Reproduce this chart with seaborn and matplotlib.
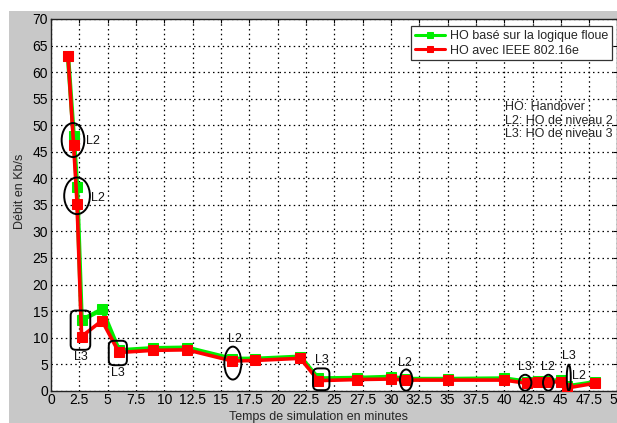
import numpy as np
import pandas as pd
import matplotlib
matplotlib.use("Agg")
import matplotlib.pyplot as plt
import seaborn as sns
from matplotlib.patches import Ellipse, FancyBboxPatch, Rectangle

# ---- data ----
time_min = [1.5, 2.0, 2.3, 2.7, 4.5, 6.0, 9.0, 12.0, 16.0, 18.0, 22.0, 23.6, 27.0,
            30.0, 31.3, 35.0, 40.0, 42.0, 43.0, 43.8, 45.0, 45.5, 48.0]
debit_floue = [63.0, 48.0, 38.4, 13.3, 15.3, 7.6, 8.0, 8.1, 6.0, 6.0, 6.4, 2.3, 2.4,
               2.6, 2.2, 2.2, 2.3, 1.7, 1.8, 1.8, 2.0, 0.8, 1.6]
debit_ieee = [63.0, 46.2, 35.2, 10.2, 13.2, 7.2, 7.6, 7.7, 5.6, 5.7, 6.1, 1.9, 2.1,
              2.2, 2.0, 2.0, 2.0, 1.4, 1.6, 1.6, 1.7, 0.5, 1.4]
series_names = ["HO basé sur la logique floue", "HO avec IEEE 802.16e"]
x_ticks = np.arange(0, 50.01, 2.5)
x_tick_labels = ["0", "2.5", "5", "7.5", "10", "12.5", "15", "17.5", "20", "22.5", "25",
                 "27.5", "30", "32.5", "35", "37.5", "40", "42.5", "45", "47.5", "50"]
y_ticks = np.arange(0, 70.01, 5)
x_label = "Temps de simulation en minutes"
y_label = "Débit en Kb/s"
info_text = "HO: Handover\nL2: HO de niveau 2\nL3: HO de niveau 3"

# handover markers: (label, kind, center_x, center_y, width, height, label_x, label_y)
handovers = [
    ("L2", "ellipse", 1.94, 47.2, 2.0, 6.4, 3.7, 47.0),
    ("L2", "ellipse", 2.30, 36.7, 2.27, 6.9, 4.1, 36.3),
    ("L3", "box", 2.60, 11.4, 1.73, 7.4, 2.6, 6.3),
    ("L3", "box", 5.90, 7.1, 1.6, 4.6, 5.9, 3.4),
    ("L2", "ellipse", 16.05, 5.2, 1.5, 6.2, 16.2, 9.8),
    ("L3", "box", 23.85, 2.15, 1.45, 4.1, 23.9, 5.8),
    ("L2", "ellipse", 31.35, 2.0, 1.1, 4.0, 31.2, 5.3),
    ("L3", "ellipse", 41.85, 1.5, 1.1, 3.0, 41.8, 4.4),
    ("L2", "ellipse", 43.9, 1.5, 0.95, 3.0, 43.9, 4.5),
    ("L3", "ellipse", 45.7, 2.45, 0.35, 4.9, 45.7, 6.5),
]
extra_label = ("L2", 46.6, 2.7)

# ---- style ----
sns.set_style("white")
plt.rcParams["font.family"] = ["Liberation Sans", "DejaVu Sans"]

fig = plt.figure(figsize=(6.17, 4.23), dpi=100)
fig.patch.set_facecolor("white")
# grey window background like the original screenshot
fig.patches.append(Rectangle((9 / 617, 0), 1, 1 - 11 / 423, transform=fig.transFigure,
                             facecolor="#c8c8c8", edgecolor="none", zorder=-10))

ax = fig.add_axes([51 / 617, 32.3 / 423, 566.5 / 617, 371.7 / 423])
ax.set_facecolor("white")

df = pd.DataFrame({
    "t": time_min + time_min,
    "d": debit_floue + debit_ieee,
    "s": [series_names[0]] * len(time_min) + [series_names[1]] * len(time_min),
})

sns.lineplot(data=df[df.s == series_names[0]], x="t", y="d", ax=ax, color="#00ee00",
             marker="s", markersize=6.5, markeredgecolor="#00ee00", linewidth=3.2,
             sort=False, estimator=None, label=series_names[0], zorder=3)
sns.lineplot(data=df[df.s == series_names[1]], x="t", y="d", ax=ax, color="#ff0000",
             marker="s", markersize=6.5, markeredgecolor="#ff0000", linewidth=2.6,
             sort=False, estimator=None, label=series_names[1], zorder=4)

for lab, kind, cx, cy, w, h, lx, ly in handovers:
    if kind == "ellipse":
        p = Ellipse((cx, cy), w, h, facecolor="none", edgecolor="black", linewidth=1.4, zorder=5)
    else:
        p = FancyBboxPatch((cx - w / 2, cy - h / 2), w, h,
                           boxstyle="round,pad=0,rounding_size=0.45", mutation_aspect=2.1,
                           facecolor="none", edgecolor="black", linewidth=1.4, zorder=5)
    ax.add_patch(p)
    ax.text(lx, ly, lab, fontsize=9, ha="center", va="center", color="#111111", zorder=6)
ax.text(extra_label[1], extra_label[2], extra_label[0], fontsize=9, ha="center",
        va="center", color="#111111", zorder=6)

ax.text(40.05, 54.6, info_text, fontsize=9, ha="left", va="top", linespacing=1.2)

ax.set_xlim(0, 50)
ax.set_ylim(0, 70)
ax.set_xticks(x_ticks)
ax.set_xticklabels(x_tick_labels)
ax.set_yticks(y_ticks)
ax.tick_params(axis="both", direction="in", length=3, labelsize=10, colors="black",
               pad=2, top=True, right=True)
ax.grid(True, linestyle=(0, (1.2, 2.6)), color="black", linewidth=0.9)
for sp in ax.spines.values():
    sp.set_color("#222222")
    sp.set_linewidth(1.0)
ax.set_xlabel(x_label, fontsize=9)
ax.set_ylabel(y_label, fontsize=9)
ax.xaxis.set_label_coords((319 - 51) / 566.5, (390.7 - 410.5) / 371.7)
ax.yaxis.set_label_coords((26 - 51) / 566.5, (390.7 - 191.5) / 371.7)

leg = ax.legend(loc="upper right", bbox_to_anchor=(0.9895, 0.98), fontsize=9,
                frameon=True, fancybox=False, edgecolor="#333333", framealpha=1,
                handlelength=2.4, borderpad=0.3, labelspacing=0.2, handletextpad=0.4,
                borderaxespad=0)
leg.get_frame().set_linewidth(0.9)
for h in leg.legend_handles:
    h.set_markersize(5)
    h.set_linewidth(2.2)

fig.savefig("out.png", dpi=100)
